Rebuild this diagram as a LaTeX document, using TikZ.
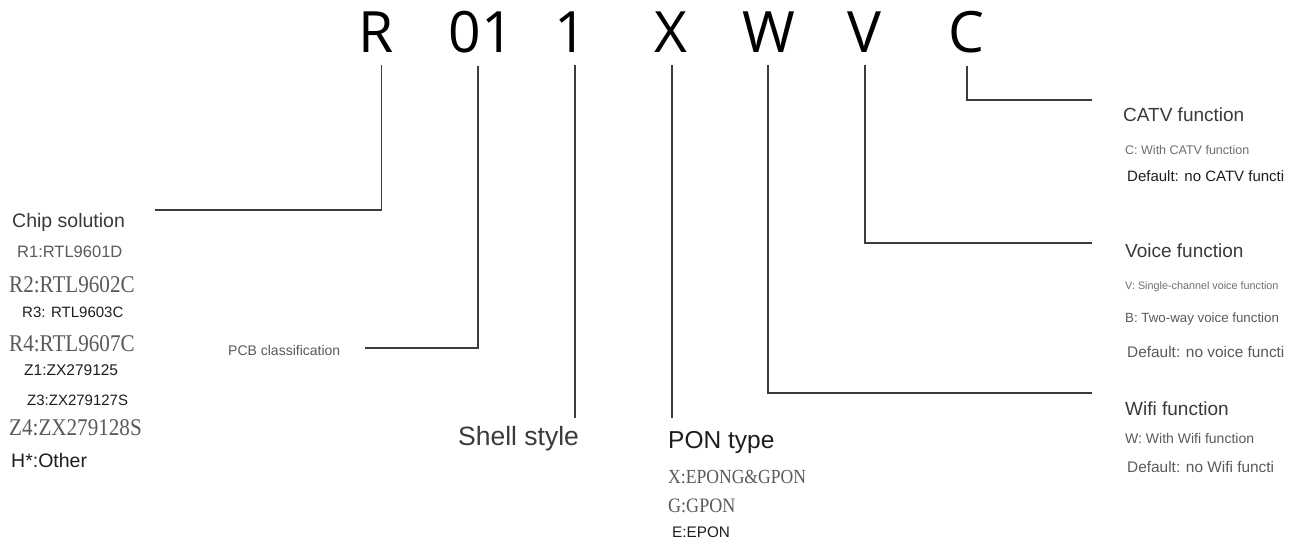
\documentclass[tikz,border=0pt]{standalone}
\usepackage{fontspec}
\setmainfont{Liberation Sans}
\newfontfamily\codefont{Open Sans}
\newfontfamily\oldserif[FakeStretch=0.88]{Liberation Serif}
\newcommand{\fsz}[1]{\fontsize{#1}{#1}\selectfont}
\definecolor{leadgray}{HTML}{3C3C3C}
\definecolor{headgray}{HTML}{3A3A3A}
\definecolor{itemgray}{HTML}{5A5A5A}
\definecolor{lightgray}{HTML}{6E6E6E}
\definecolor{darkitem}{HTML}{1E1E1E}
\tikzset{
	code/.style={anchor=base,inner xsep=0pt,inner ysep=12pt,font=\codefont\fsz{57},text=black},
	lead/.style={draw=leadgray,line width=1.6pt},
	txt/.style={anchor=base west,inner sep=0pt},
	head/.style={txt,font=\fsz{19},text=headgray},
	item/.style={txt,font=\fsz{#1},text=itemgray},
	ditem/.style={txt,font=\fsz{#1},text=darkitem},
	sitem/.style={txt,font=\oldserif\fsz{#1},text=itemgray}
}

\begin{document}
\begin{tikzpicture}[x=1pt,y=-1pt]
			\useasboundingbox[fill=white] (0,0) rectangle (1301,545);
			\node[code] (cR) at (376,53) {R};
			\node[code] (cPcb) at (481,53) {01};
			\node[code] (cShell) at (571,53) {1};
			\node[code] (cPon) at (671,53) {X};
			\node[code] (cWifi) at (769,53) {W};
			\node[code] (cVoice) at (864,53) {V};
			\node[code] (cCatv) at (966,53) {C};
				\node[head,font=\fsz{19.5}] (chip) at (12,228) {Chip solution};
				\node[item=16.5] (r1) at (17,258) {R1:RTL9601D};
				\node[sitem=24] (r2) at (9,293) {R2:RTL9602C};
				\node[ditem=15] (r3) at (22,317) {R3: RTL9603C};
				\node[sitem=24] (r4) at (9,352) {R4:RTL9607C};
				\node[ditem=15.5] (z1) at (24,375) {Z1:ZX279125};
				\node[ditem=15] (z3) at (27,405) {Z3:ZX279127S};
				\node[sitem=24] (z4) at (9,435) {Z4:ZX279128S};
				\node[ditem=19.5] (other) at (11,467) {H*:Other};
				\node[item=14] (pcb) at (228,355) {PCB classification};
				\node[head,font=\fsz{26.5}] (shell) at (458,445) {Shell style};
				\node[head,font=\fsz{24.5},text=darkitem] (pon) at (668,448) {PON type};
				\node[sitem=20] (ponx) at (668,483) {X:EPONG\&GPON};
				\node[sitem=20.5] (pong) at (668,512) {G:GPON};
				\node[ditem=15.3] (pone) at (672,537) {E:EPON};
				\node[head] (catv) at (1123,122) {CATV function};
				\node[item=12.5,text=lightgray] (catvc) at (1125,155) {C: With CATV function};
				\node[ditem=15] (catvd) at (1127,182) {Default: no CATV functi};
				\node[head] (voice) at (1125,258) {Voice function};
				\node[item=10.8,text=lightgray] (voicev) at (1125,290) {V: Single-channel voice function};
				\node[item=13.3] (voiceb) at (1125,323) {B: Two-way voice function};
				\node[item=15.4] (voiced) at (1127,357) {Default: no voice functi};
				\node[head] (wifi) at (1125,415) {Wifi function};
				\node[item=14] (wifiw) at (1125,443) {W: With Wifi function};
				\node[item=15.4] (wifid) at (1127,472) {Default: no Wifi functi};
			\coordinate (chipEnd) at (155,210);
			\coordinate (pcbEnd) at (365,348);
			\coordinate (shellEnd) at (575,418);
			\coordinate (ponEnd) at (672,418);
			\coordinate (wifiEnd) at (1092,393);
			\coordinate (voiceEnd) at (1092,243);
			\coordinate (catvEnd) at (1092,100);
			\draw[lead] ([xshift=5.5pt]cR.south) |- (chipEnd);
			\draw[lead] ([xshift=-3pt]cPcb.south) |- (pcbEnd);
			\draw[lead] (cShell.south -| shellEnd) -- (shellEnd);
			\draw[lead] (cPon.south -| ponEnd) -- (ponEnd);
			\draw[lead] ([xshift=-1pt]cWifi.south) |- (wifiEnd);
			\draw[lead] ([xshift=1pt]cVoice.south) |- (voiceEnd);
			\draw[lead] ([xshift=1pt]cCatv.south) |- (catvEnd);
		\end{tikzpicture}
\end{document}
